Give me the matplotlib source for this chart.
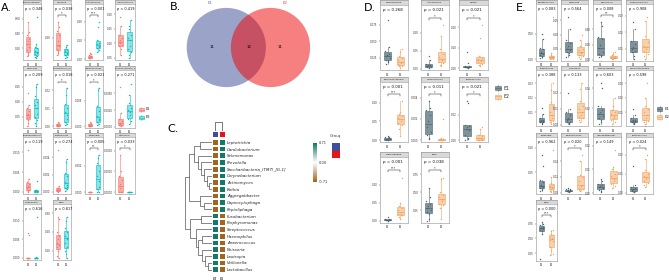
import numpy as np
import matplotlib
matplotlib.use('Agg')
import matplotlib.pyplot as plt
from matplotlib.patches import Rectangle, Circle
from matplotlib.colors import LinearSegmentedColormap, ListedColormap, to_rgba
from matplotlib.ticker import MaxNLocator
import matplotlib.transforms as mtrans

# ---------------- data ----------------
A_titles = ["Fusobacterium", "Gemella", "Actinomyces", "Granulicatella",
            "Neisseria", "Saccharibacteria_(TM7)", "Selenomonas", "Corynebacterium_1",
            "Cardiobacterium", "Leptotrichia", "Lautropia", "Catonella",
            "Treponema", "SDRI"]
A_p = ["0.348", "0.038", "0.001", "0.419", "0.209", "0.018", "0.021", "0.271",
       "0.119", "0.274", "0.005", "0.033", "0.616", "0.817"]
A_stars = ["", "*", "***", "", "", "*", "*", "", "", "", "**", "*", "", ""]
A_E1 = [
    [0.55, 0.42, 0.38, 0.33, 0.30, 0.26, 0.22, 0.18, 0.13, 0.11, 0.10],
    [0.32, 0.28, 0.25, 0.22, 0.18, 0.15, 0.14, 0.12, 0.10, 0.09, 0.07],
    [0.030, 0.025, 0.020, 0.015, 0.012, 0.010, 0.009, 0.008, 0.006, 0.005],
    [0.19, 0.16, 0.13, 0.12, 0.11, 0.10, 0.095, 0.09, 0.08, 0.06],
    [0.13, 0.09, 0.08, 0.07, 0.06, 0.055, 0.05, 0.045, 0.04, 0.03, 0.02],
    [0.0025, 0.0018, 0.0012, 0.0008, 0.0006, 0.0004, 0.0003, 0.0002, 0.0001, 0.0],
    [0.0008, 0.0006, 0.0004, 0.0003, 0.0002, 0.0001, 0.0001, 0.0, 0.0, 0.0],
    [0.0060, 0.0021, 0.0012, 0.0008, 0.0006, 0.0004, 0.0003, 0.0002, 0.0001, 0.0001],
    [0.0105, 0.0033, 0.0025, 0.0020, 0.0015, 0.0010, 0.0006, 0.0004, 0.0002, 0.0001],
    [0.0048, 0.0007, 0.0005, 0.0004, 0.0003, 0.0002, 0.0002, 0.0001, 0.0001, 0.0],
    [0.0, 0.0, 0.0, 0.0, 0.0, 0.0, 0.0, 0.0, 0.0, 0.0],
    [0.0009, 0.0005, 0.0004, 0.0003, 0.0002, 0.0001, 0.0, 0.0, 0.0, 0.0],
    [0.0066, 0.0062, 0.0001, 0.0001, 0.0, 0.0, 0.0, 0.0, 0.0, 0.0],
    [0.28, 0.27, 0.20, 0.18, 0.16, 0.14, 0.13, 0.12, 0.11, 0.10, 0.07, 0.06],
]
A_E2 = [
    [0.62, 0.26, 0.22, 0.20, 0.17, 0.15, 0.14, 0.12, 0.10, 0.08, 0.07],
    [0.15, 0.13, 0.12, 0.11, 0.10, 0.09, 0.08, 0.07, 0.06, 0.05],
    [0.20, 0.17, 0.10, 0.085, 0.08, 0.07, 0.065, 0.06, 0.05, 0.04],
    [0.18, 0.16, 0.15, 0.13, 0.12, 0.11, 0.09, 0.08, 0.07, 0.06, 0.05],
    [0.16, 0.15, 0.12, 0.10, 0.09, 0.08, 0.06, 0.05, 0.04, 0.03, 0.02],
    [0.021, 0.017, 0.012, 0.010, 0.008, 0.006, 0.004, 0.002, 0.001, 0.0005],
    [0.0075, 0.0072, 0.004, 0.003, 0.002, 0.0015, 0.0012, 0.0008, 0.0005, 0.0002],
    [0.0065, 0.0048, 0.0035, 0.0028, 0.0025, 0.0022, 0.0018, 0.0012, 0.0008, 0.0004],
    [0.0028, 0.0006, 0.0004, 0.0003, 0.0002, 0.0002, 0.0001, 0.0001, 0.0, 0.0],
    [0.0038, 0.0034, 0.0022, 0.0018, 0.0012, 0.0008, 0.0006, 0.0004, 0.0003, 0.0001],
    [0.0014, 0.0013, 0.0011, 0.0008, 0.0006, 0.0004, 0.0002, 0.0001, 0.0, 0.0],
    [0.0, 0.0, 0.0, 0.0, 0.0, 0.0, 0.0, 0.0, 0.0, 0.0],
    [0.0110, 0.0002, 0.0001, 0.0, 0.0, 0.0, 0.0, 0.0, 0.0, 0.0],
    [0.28, 0.26, 0.22, 0.20, 0.18, 0.17, 0.16, 0.14, 0.12, 0.10, 0.08, 0.06],
]

B_sets = ["E1", "E2"]
B_counts = [11, 12, 11]   # E1 only, shared, E2 only

C_genera = ["Leptotrichia", "Cardiobacterium", "Selenomonas", "Prevotella",
            "Saccharibacteria_(TM7)_[G-1]", "Corynebacterium", "Actinomyces", "Rothia",
            "Aggregatibacter", "Capnocytophaga", "Peptoliphaga", "Fusobacterium",
            "Porphyromonas", "Streptococcus", "Haemophilus", "Anaerococcus",
            "Neisseria", "Lautropia", "Veillonella", "Lactobacillus"]
C_E1 = [-0.71, -0.71, -0.71, -0.71, -0.71, -0.71, -0.71, -0.71, -0.71, -0.71, -0.71,
        0.71, 0.71, 0.71, 0.71, 0.71, 0.71, 0.71, 0.71, 0.71]
C_E2 = [0.71, 0.71, 0.71, 0.71, 0.71, 0.71, 0.71, 0.71, 0.71, 0.71, 0.71,
        -0.71, -0.71, -0.71, -0.71, -0.71, -0.71, -0.71, -0.71, -0.71]
# row linkage: (child_a, child_b, height); leaves 0..19, merges numbered from 20
C_linkage = [(6, 7, 0.10), (5, 20, 0.20), (4, 21, 0.30), (3, 22, 0.40), (2, 23, 0.50),
             (0, 1, 0.45), (25, 24, 0.65), (9, 10, 0.30), (8, 27, 0.45), (26, 28, 0.85),
             (11, 12, 0.40), (18, 19, 0.15), (17, 31, 0.25), (16, 32, 0.35),
             (14, 15, 0.35), (34, 33, 0.50), (13, 35, 0.60), (30, 36, 0.80), (29, 37, 1.0)]
C_groups = ["E1", "E2"]

D_titles = ["Megasphaera", "Actinomyces", "Rothia", "Corynebacterium",
            "Anaerococcus", "Lactobacillus", "Peptoniphaga", "SDRI"]
D_p = ["0.268", "0.021", "0.021", "0.001", "0.011", "0.021", "0.001", "0.038"]
D_stars = ["", "*", "*", "***", "*", "*", "***", "*"]
D_E1 = [
    [0.082, 0.042, 0.035, 0.031, 0.029, 0.027, 0.025, 0.022, 0.020, 0.018, 0.016],
    [0.035, 0.025, 0.015, 0.012, 0.010, 0.008, 0.006, 0.005, 0.004, 0.003],
    [0.080, 0.025, 0.010, 0.008, 0.006, 0.005, 0.004, 0.003, 0.002, 0.001],
    [0.012, 0.009, 0.007, 0.005, 0.004, 0.003, 0.002, 0.001, 0.0005, 0.0],
    [0.0037, 0.0030, 0.0028, 0.0024, 0.0018, 0.0012, 0.0008, 0.0005, 0.0002, 0.0001],
    [0.031, 0.029, 0.012, 0.011, 0.010, 0.009, 0.008, 0.004, 0.002, 0.001, 0.0],
    [0.012, 0.006, 0.004, 0.003, 0.002, 0.002, 0.001, 0.001, 0.0005, 0.0],
    [0.55, 0.43, 0.38, 0.33, 0.30, 0.28, 0.25, 0.22, 0.19, 0.13, 0.10],
]
D_E2 = [
    [0.038, 0.034, 0.028, 0.024, 0.021, 0.019, 0.017, 0.015, 0.013, 0.012, 0.010],
    [0.120, 0.090, 0.055, 0.040, 0.032, 0.028, 0.025, 0.020, 0.016, 0.012, 0.008],
    [0.210, 0.150, 0.060, 0.050, 0.045, 0.040, 0.035, 0.030, 0.020, 0.015, 0.010],
    [0.105, 0.075, 0.070, 0.065, 0.060, 0.055, 0.050, 0.045, 0.040, 0.030, 0.010],
    [0.0020, 0.0002, 0.0001, 0.0001, 0.0, 0.0, 0.0, 0.0, 0.0, 0.0],
    [0.010, 0.009, 0.004, 0.003, 0.002, 0.001, 0.0005, 0.0, 0.0, 0.0],
    [0.120, 0.050, 0.040, 0.035, 0.030, 0.025, 0.020, 0.018, 0.015, 0.010, 0.005],
    [0.70, 0.68, 0.50, 0.46, 0.43, 0.40, 0.37, 0.34, 0.32, 0.28, 0.12],
]

E_titles = ["Streptococcus", "Neisseria", "Veillonella", "Porphyromonas",
            "Leptotrichia", "Prevotella", "Fusobacterium", "Capnocytophaga",
            "Lautropia", "Selenomonas", "Aggregatibacter", "Lactobacillus", "SDRI"]
E_p = ["0.083", "0.564", "0.008", "0.908", "0.388", "0.133", "0.603", "0.598",
       "0.962", "0.020", "0.149", "0.024", "0.000"]
E_stars = ["", "", "**", "", "", "", "", "", "", "*", "", "*", "***"]
E_E1 = [
    [0.50, 0.40, 0.22, 0.20, 0.15, 0.12, 0.10, 0.08, 0.06, 0.04, 0.03],
    [0.16, 0.12, 0.08, 0.07, 0.06, 0.05, 0.045, 0.04, 0.035, 0.03, 0.02],
    [0.50, 0.45, 0.30, 0.28, 0.20, 0.15, 0.10, 0.08, 0.06, 0.05, 0.04],
    [0.026, 0.022, 0.015, 0.013, 0.011, 0.010, 0.009, 0.008, 0.006, 0.004],
    [0.013, 0.009, 0.006, 0.005, 0.0045, 0.004, 0.0035, 0.003, 0.0025, 0.002],
    [0.020, 0.010, 0.008, 0.006, 0.004, 0.003, 0.002, 0.0015, 0.001, 0.0005],
    [0.045, 0.040, 0.022, 0.018, 0.016, 0.014, 0.012, 0.010, 0.008, 0.006, 0.004],
    [0.012, 0.008, 0.006, 0.005, 0.0045, 0.004, 0.0035, 0.003, 0.0025, 0.002],
    [0.085, 0.062, 0.035, 0.030, 0.025, 0.022, 0.020, 0.018, 0.016, 0.014, 0.012],
    [0.006, 0.005, 0.004, 0.003, 0.0025, 0.002, 0.0018, 0.0015, 0.001, 0.0005],
    [0.006, 0.005, 0.004, 0.0035, 0.003, 0.0025, 0.002, 0.0015, 0.001, 0.0005],
    [0.014, 0.004, 0.003, 0.0025, 0.002, 0.0015, 0.001, 0.0008, 0.0005, 0.0002],
    [0.78, 0.75, 0.72, 0.70, 0.68, 0.67, 0.66, 0.64, 0.62, 0.57, 0.15],
]
E_E2 = [
    [0.82, 0.12, 0.08, 0.06, 0.05, 0.04, 0.03, 0.02, 0.015, 0.01],
    [0.10, 0.08, 0.06, 0.05, 0.045, 0.04, 0.035, 0.03, 0.025, 0.02, 0.015],
    [0.10, 0.08, 0.06, 0.05, 0.04, 0.035, 0.03, 0.025, 0.02, 0.015, 0.01],
    [0.029, 0.027, 0.018, 0.014, 0.012, 0.011, 0.010, 0.009, 0.007, 0.006, 0.004],
    [0.030, 0.025, 0.017, 0.014, 0.010, 0.008, 0.006, 0.005, 0.004, 0.003, 0.002],
    [0.026, 0.022, 0.015, 0.012, 0.010, 0.008, 0.006, 0.005, 0.004, 0.003, 0.002],
    [0.030, 0.022, 0.018, 0.016, 0.014, 0.012, 0.010, 0.008, 0.006, 0.004],
    [0.030, 0.020, 0.014, 0.012, 0.010, 0.008, 0.006, 0.005, 0.004, 0.003, 0.002],
    [0.095, 0.040, 0.028, 0.025, 0.022, 0.020, 0.018, 0.016, 0.014, 0.012, 0.010],
    [0.048, 0.040, 0.022, 0.020, 0.015, 0.010, 0.008, 0.006, 0.004, 0.003, 0.002],
    [0.018, 0.011, 0.010, 0.008, 0.007, 0.006, 0.005, 0.004, 0.003, 0.002],
    [0.020, 0.018, 0.012, 0.010, 0.009, 0.008, 0.007, 0.006, 0.005, 0.004, 0.003],
    [0.65, 0.62, 0.58, 0.55, 0.52, 0.50, 0.49, 0.48, 0.46, 0.36, 0.30, 0.23, 0.22],
]
group_labels = ["E1", "E2"]

# ---------------- layout helpers ----------------
W, H = 669, 280
fig = plt.figure(figsize=(W / 100, H / 100), dpi=100)
fig.patch.set_facecolor('white')


def ax_px(l, t, r, b, **kw):
    return fig.add_axes([l / W, 1 - b / H, (r - l) / W, (b - t) / H], **kw)


def set_yticks(ax, mx, rng):
    lo, hi = ax.get_ylim()
    loc = MaxNLocator(nbins=4, steps=[1, 2, 2.5, 5, 10])
    ticks = [t for t in loc.tick_values(lo, hi) if lo <= t <= mx + 0.12 * rng]
    step = ticks[1] - ticks[0] if len(ticks) > 1 else 1.0
    d = 2
    for d in range(2, 7):
        if all(abs(round(t, d) - t) < step * 1e-6 for t in ticks):
            break
    ax.set_yticks(ticks)
    ax.set_yticklabels([f"{abs(t) if abs(t) < 1e-12 else t:.{d}f}" for t in ticks])


def facet(l, ts, t, r, b, title, p, star, v1, v2, c1, c2, a1, a2, pfs=2.6):
    sax = ax_px(l, ts, r, t)
    sax.set_facecolor('#D9D9D9')
    sax.set_xticks([]); sax.set_yticks([])
    for s in sax.spines.values():
        s.set_color('#8C8C8C'); s.set_linewidth(0.4)
    sax.text(0.5, 0.45, title, ha='center', va='center', fontsize=1.7,
             color='#1A1A1A', transform=sax.transAxes, clip_on=True)

    ax = ax_px(l, t, r, b)
    for s in ax.spines.values():
        s.set_color('#A8A8A8'); s.set_linewidth(0.5)
    bp = ax.boxplot([v1, v2], positions=[1, 2], widths=0.55, patch_artist=True,
                    showfliers=False, whis=1.5)
    for i, (c, a) in enumerate([(c1, a1), (c2, a2)]):
        bp['boxes'][i].set(facecolor=to_rgba(c, a), edgecolor=c, linewidth=0.4)
        bp['medians'][i].set(color=c, linewidth=0.5)
        for w in bp['whiskers'][2 * i:2 * i + 2]:
            w.set(color=c, linewidth=0.4)
        for cp in bp['caps'][2 * i:2 * i + 2]:
            cp.set_visible(False)
    for i, (vals, c) in enumerate([(v1, c1), (v2, c2)]):
        vals = np.asarray(vals, float)
        off = 0.17 * np.sin(np.arange(len(vals)) * 2.4 + i)
        ax.scatter(i + 1 + off, vals, s=1.0, color=c, linewidths=0, zorder=3)
    allv = np.concatenate([v1, v2])
    mn, mx = allv.min(), allv.max()
    rng = mx - mn if mx > mn else 1.0
    top = mx + (0.48 if star else 0.32) * rng
    ax.set_ylim(mn - 0.05 * rng, top)
    ax.set_xlim(0.4, 2.6)
    ax.set_xticks([1, 2])
    ax.set_xticklabels(group_labels)
    set_yticks(ax, mx, rng)
    ax.tick_params(axis='both', labelsize=1.9, length=1.0, width=0.3, pad=0.8,
                   colors='#333333')
    ax.text(0.1, 0.955, f"p = {p}", transform=ax.transAxes, fontsize=pfs,
            va='top', ha='left', color='#111111')
    if star:
        tr = mtrans.blended_transform_factory(ax.transData, ax.transAxes)
        ax.plot([1, 1, 2, 2], [0.775, 0.80, 0.80, 0.775], transform=tr,
                color='#222222', lw=0.35)
        ax.text(1.5, 0.795, star, transform=tr, ha='center', va='bottom',
                fontsize=2.4, color='#222222')
    return ax


def legend_px(x, ys, labels, cols, alphas, fs, bw=5, bh=3.5):
    lax = ax_px(x - 3, ys[0] - 6, min(x + 30, W), ys[-1] + 6)
    lax.set_xlim(x - 3, min(x + 30, W)); lax.set_ylim(ys[-1] + 6, ys[0] - 6)
    lax.axis('off')
    for y, lab, c, a in zip(ys, labels, cols, alphas):
        lax.add_patch(Rectangle((x, y - bh / 2), bw, bh, facecolor=to_rgba(c, a),
                                edgecolor=c, lw=0.4))
        lax.plot([x, x + bw], [y, y], color=c, lw=0.4)
        lax.plot([x + bw / 2, x + bw / 2], [y - bh / 2 - 1.2, y - bh / 2], color=c, lw=0.4)
        lax.plot([x + bw / 2, x + bw / 2], [y + bh / 2, y + bh / 2 + 1.2], color=c, lw=0.4)
        lax.text(x + bw + 2.5, y, lab, fontsize=fs, va='center', ha='left',
                 color='#222222', clip_on=True)


# ---------------- Panel A ----------------
A_c1, A_c2 = '#F8766D', '#00BFC4'
A_cols = [(23, 41), (53, 71), (85, 103), (115, 135)]
A_rows = [(0, 4, 60), (66, 70, 128), (133, 137, 194), (200, 204, 260)]
for k in range(len(A_titles)):
    ri, ci = divmod(k, 4)
    l, r = A_cols[ci]
    ts, t, b = A_rows[ri]
    facet(l, ts, t, r, b, A_titles[k], A_p[k], A_stars[k], A_E1[k], A_E2[k],
          A_c1, A_c2, 0.6, 0.45, pfs=2.5)
legend_px(139, [109.5, 117.5], group_labels, [A_c1, A_c2], [0.6, 0.45], 2.6, bw=4.5, bh=3)
fig.text(1 / W, 1 - 11 / H, "A.", fontsize=8, ha='left', va='baseline')

# ---------------- Panel B ----------------
bax = ax_px(180, 0, 320, 95)
bax.set_xlim(180, 320); bax.set_ylim(95, 0); bax.axis('off')
B_cols = ['#3B4992', '#EE0000']
B_cx = [226.3, 270.5]
for cx, c in zip(B_cx, B_cols):
    bax.add_patch(Circle((cx, 47.5), 39.6, facecolor=c, alpha=0.5, edgecolor='none'))
bax.text(212, 47.5, str(B_counts[0]), fontsize=2.8, ha='center', va='center')
bax.text(249, 47.5, str(B_counts[1]), fontsize=2.8, ha='center', va='center')
bax.text(280, 47.5, str(B_counts[2]), fontsize=2.8, ha='center', va='center')
bax.text(210, 3.5, B_sets[0], fontsize=2.8, ha='center', va='center', color='#6870AE')
bax.text(285, 3.5, B_sets[1], fontsize=2.8, ha='center', va='center', color='#EE4444')
fig.text(170 / W, 1 - 10 / H, "B.", fontsize=8, ha='left', va='baseline')

# ---------------- Panel C ----------------
cmap = LinearSegmentedColormap.from_list('bt', ['#A2641E', '#FFFFFF', '#137A68'])
n = len(C_genera)
hax = ax_px(212, 139, 225.5, 273)
mat = np.column_stack([C_E1, C_E2])
hax.pcolormesh(np.arange(3), np.arange(n + 1), mat, cmap=cmap, vmin=-0.71, vmax=0.71,
               edgecolors='white', linewidth=0.35)
hax.set_ylim(n, 0); hax.set_xlim(0, 2)
hax.yaxis.tick_right()
hax.set_yticks(np.arange(n) + 0.5)
hax.set_yticklabels(C_genera, fontsize=2.9, style='italic', color='#222222')
hax.set_xticks([0.5, 1.5])
hax.set_xticklabels(C_groups, rotation=90, fontsize=2.4)
hax.tick_params(length=0, pad=1)
for s in hax.spines.values():
    s.set_visible(False)

tax = ax_px(212, 131, 225.5, 138)
tax.pcolormesh(np.arange(3), np.arange(2), np.array([[0, 1]]),
               cmap=ListedColormap(['#3F4D9E', '#EE1111']), edgecolors='white', linewidth=0.35)
tax.axis('off')

cdx = ax_px(212, 122, 225.5, 131)
cdx.set_xlim(0, 2); cdx.set_ylim(0, 1.05); cdx.axis('off')
cdx.plot([0.5, 0.5, 1.5, 1.5], [0, 1, 1, 0], color='#444444', lw=0.5)

# row dendrogram from linkage
pos = {i: (0.0, i + 0.5) for i in range(n)}
dax = ax_px(184, 139, 212, 273)
dax.set_xlim(1.03, 0); dax.set_ylim(n, 0); dax.axis('off')
for m, (a, b_, h) in enumerate(C_linkage):
    ha_, ya = pos[a]
    hb, yb = pos[b_]
    dax.plot([ha_, h, h, hb], [ya, ya, yb, yb], color='#555555', lw=0.5,
             solid_joinstyle='miter')
    pos[n + m] = (h, (ya + yb) / 2)

cbx = ax_px(312.7, 143, 316.7, 182)
cbx.imshow(np.linspace(0.71, -0.71, 100).reshape(-1, 1), cmap=cmap, vmin=-0.71, vmax=0.71,
           aspect='auto', extent=[0, 1, -0.71, 0.71])
cbx.set_xticks([]); cbx.set_yticks([])
for s in cbx.spines.values():
    s.set_visible(False)
for v, lab in [(0.71, "0.71"), (0.0, "0.00"), (-0.71, "-0.71")]:
    yy = 143 + (0.71 - v) / 1.42 * 39
    fig.text(318.5 / W, 1 - yy / H, lab, fontsize=2.6, va='center', ha='left', color='#333333')

gax = ax_px(328, 130, 340, 160)
gax.set_xlim(328, 340); gax.set_ylim(160, 130); gax.axis('off')
gax.text(330, 136, "Group", fontsize=2.9, va='center', ha='left', clip_on=True, color='#333333')
gax.add_patch(Rectangle((331.7, 143), 9, 7.5, facecolor='#3F4D9E', edgecolor='none', clip_on=True))
gax.add_patch(Rectangle((331.7, 150.5), 9, 7.5, facecolor='#EE1111', edgecolor='none', clip_on=True))
fig.text(167 / W, 1 - 132 / H, "C.", fontsize=8, ha='left', va='baseline')

# ---------------- Panel D ----------------
D_c1, D_c2 = '#4B6670', '#F2A25C'
D_cols = [(380, 408), (421, 449), (459, 488)]
D_rows = [(0, 5, 70), (77, 82, 142), (152, 157, 223)]
for k in range(len(D_titles)):
    ri, ci = divmod(k, 3)
    l, r = D_cols[ci]
    ts, t, b = D_rows[ri]
    facet(l, ts, t, r, b, D_titles[k], D_p[k], D_stars[k], D_E1[k], D_E2[k],
          D_c1, D_c2, 0.7, 0.5, pfs=2.9)
legend_px(494.5, [88, 96.5], group_labels, [D_c1, D_c2], [0.7, 0.5], 3.3, bw=6, bh=4)
fig.text(364 / W, 1 - 11 / H, "D.", fontsize=8, ha='left', va='baseline')

# ---------------- Panel E ----------------
E_cols = [(536, 557), (561, 588), (593, 621), (626, 653)]
E_rows = [(0, 4, 61), (66, 70, 126), (133, 137, 194), (200, 204, 261)]
for k in range(len(E_titles)):
    ri, ci = divmod(k, 4)
    l, r = E_cols[ci]
    ts, t, b = E_rows[ri]
    facet(l, ts, t, r, b, E_titles[k], E_p[k], E_stars[k], E_E1[k], E_E2[k],
          D_c1, D_c2, 0.7, 0.5, pfs=2.5)
legend_px(657, [109, 117], group_labels, [D_c1, D_c2], [0.7, 0.5], 2.8, bw=5, bh=3.5)
fig.text(516 / W, 1 - 11 / H, "E.", fontsize=8, ha='left', va='baseline')

fig.savefig('out.png', dpi=100)
